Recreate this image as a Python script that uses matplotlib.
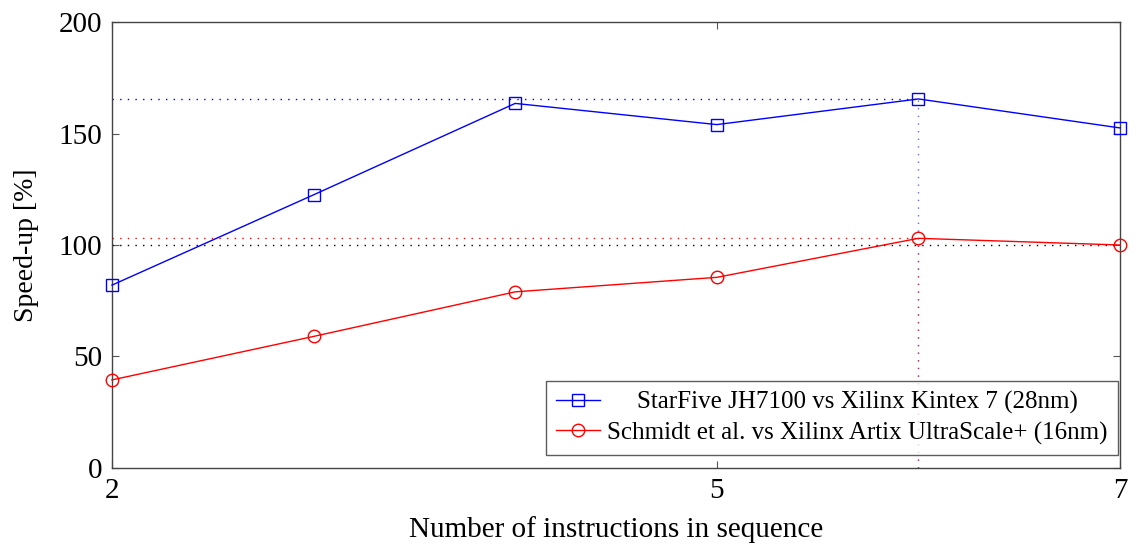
import matplotlib.pyplot as plt

# data
n_instr = [2, 3, 4, 5, 6, 7]
starfive = [82, 122.5, 163.5, 154, 165.5, 152.5]
schmidt = [39.5, 59, 79, 85.5, 103, 100]
labels = ['StarFive JH7100 vs Xilinx Kintex 7 (28nm)',
          'Schmidt et al. vs Xilinx Artix UltraScale+ (16nm)']

plt.rcParams['font.family'] = ['Liberation Serif', 'DejaVu Serif']

fig = plt.figure(figsize=(11.4, 5.45), dpi=100)
ax = fig.add_axes([0.0982, 0.1413, 0.8843, 0.8183])

dot = (0, (1, 4.5))
best = 4  # index of max
# reference lines
ax.plot([2, n_instr[best]], [starfive[best]] * 2, color='blue', ls=dot, lw=1)
ax.plot([2, n_instr[best]], [schmidt[best]] * 2, color='red', ls=dot, lw=1)
ax.plot([2, 7], [100, 100], color='black', ls=dot, lw=1)
ax.plot([n_instr[best]] * 2, [0, starfive[best]], color='blue', ls=dot, lw=1, alpha=0.6)
ax.plot([n_instr[best]] * 2, [0, schmidt[best]], color='red', ls=dot, lw=1, alpha=0.6)

ax.plot(n_instr, starfive, color='blue', lw=1, marker='s', ms=9,
        mfc='none', mew=1, label=labels[0], clip_on=False, zorder=3)
ax.plot(n_instr, schmidt, color='red', lw=1, marker='o', ms=9,
        mfc='none', mew=1, label=labels[1], clip_on=False, zorder=3)

ax.set_xlim(2, 7)
ax.set_ylim(0, 200)
ax.set_xticks([2, 5, 7])
ax.set_yticks([0, 50, 100, 150, 200])
ax.tick_params(direction='in', top=True, right=True, length=5, width=0.8,
               color='#555555', labelsize=21, pad=7)
for s in ax.spines.values():
    s.set_color('#444444')
    s.set_linewidth(1)

ax.set_xlabel('Number of instructions in sequence', fontsize=21, labelpad=9)
ax.set_ylabel('Speed-up [%]', fontsize=20, labelpad=14)

leg = ax.legend(loc='lower right', bbox_to_anchor=(0.9975, 0.03), fontsize=18,
                frameon=True, fancybox=False, edgecolor='#333333',
                handlelength=1.75, borderpad=0.4, labelspacing=0.3,
                handletextpad=0.3, borderaxespad=0)
leg.get_frame().set_linewidth(1)

# centre the legend texts in their column (like pgfplots)
fig.canvas.draw()
r = fig.canvas.get_renderer()
texts = leg.get_texts()
widths = [t.get_window_extent(r).width for t in texts]
rows = leg._legend_handle_box.get_children()[0].get_children()
for row, w in zip(rows, widths):
    row.sep += (max(widths) - w) / 2 / (fig.dpi / 72)

fig.savefig('out.png', dpi=100)
